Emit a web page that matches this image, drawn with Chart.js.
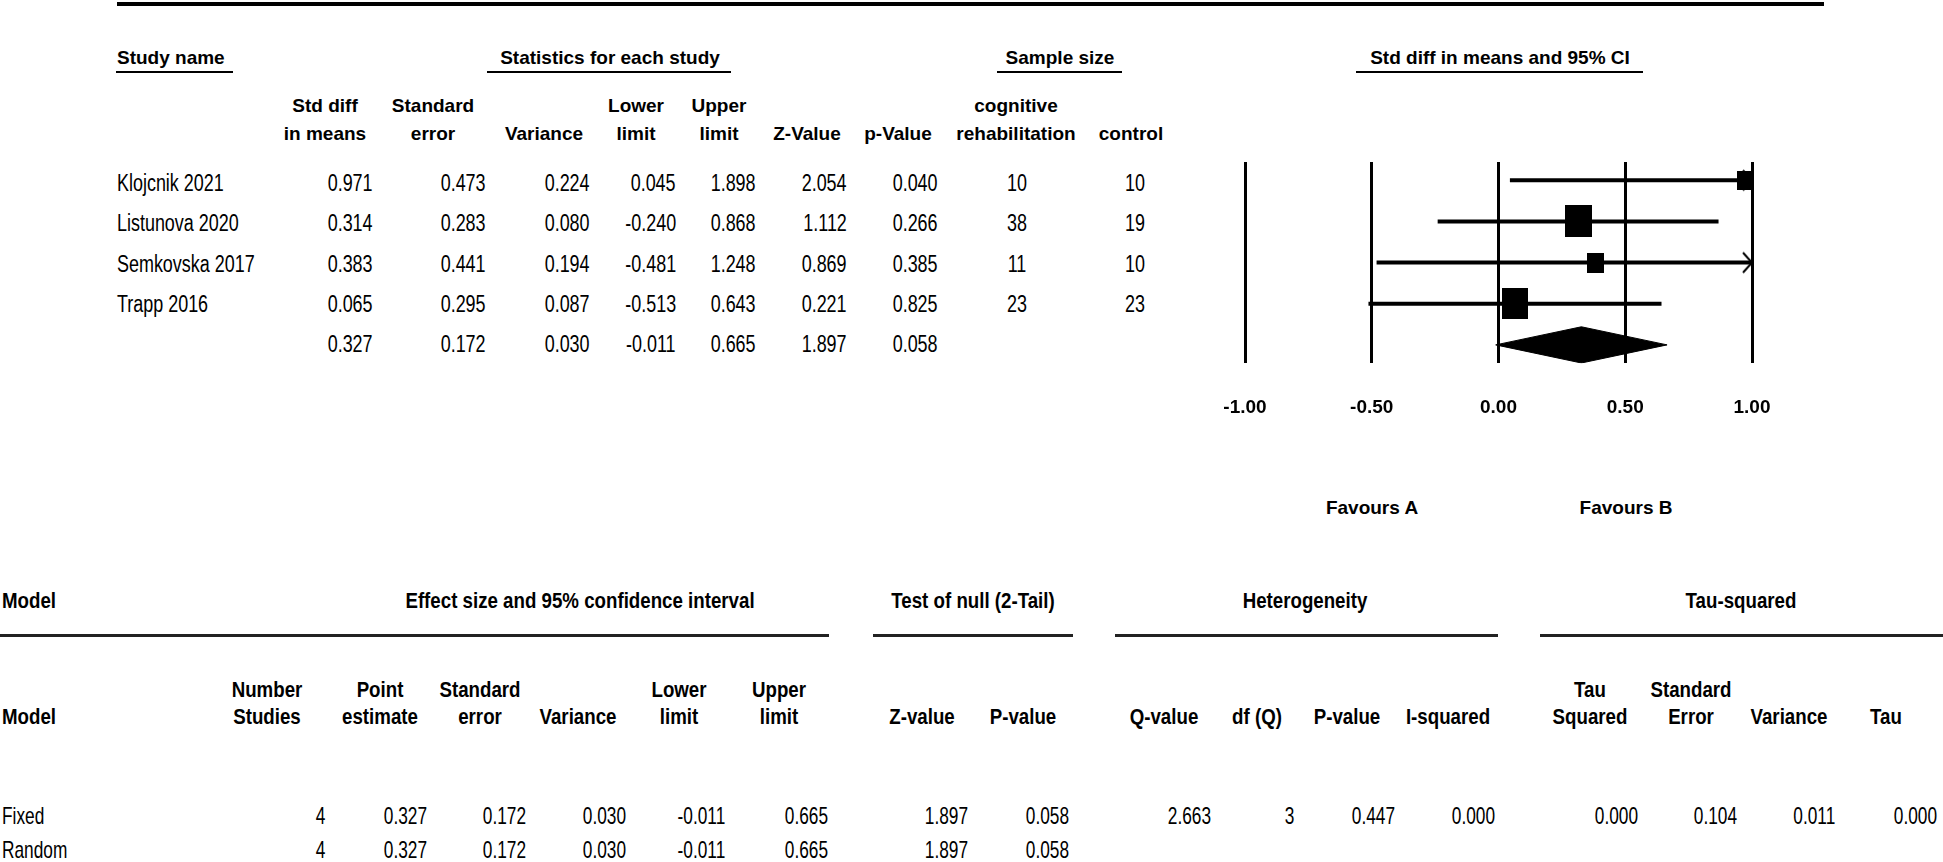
<!DOCTYPE html>
<html>
<head>
<meta charset="utf-8">
<title>Forest plot</title>
<script src="https://cdn.jsdelivr.net/npm/chart.js@4.4.0/dist/chart.umd.min.js"></script>
<style>
  body { margin: 0; background: #fff; }
  #page { position: relative; width: 1943px; height: 862px; overflow: hidden; }
  .t { position: absolute; white-space: nowrap; line-height: 1; color: #000; }
  .hdr { font: bold 19px "Liberation Sans", Arial, sans-serif; }
  .val { font: 23px "Liberation Sans", Arial, sans-serif; }
  .mhdr { font: bold 22px "Liberation Sans", Arial, sans-serif; }
  .mval { font: 24px "Liberation Sans", Arial, sans-serif; }
  .rule { position: absolute; background: #000; }
  #plot { position: absolute; left: 1185px; top: 150px; width: 627px; height: 302px; }
</style>
</head>
<body>
<div id="page">
  <div id="plot"><canvas id="forest"></canvas></div>
</div>
<script>
// study level results
const studyNames = ['Klojcnik 2021', 'Listunova 2020', 'Semkovska 2017', 'Trapp 2016'];
const stdDiff = [0.971, 0.314, 0.383, 0.065];
const stdErr = [0.473, 0.283, 0.441, 0.295];
const variance = [0.224, 0.080, 0.194, 0.087];
const lowerLimit = [0.045, -0.240, -0.481, -0.513];
const upperLimit = [1.898, 0.868, 1.248, 0.643];
const zValue = [2.054, 1.112, 0.869, 0.221];
const pValue = [0.040, 0.266, 0.385, 0.825];
const nRehab = [10, 38, 11, 23];
const nControl = [10, 19, 10, 23];

// pooled row: estimate, SE, variance, lower, upper, Z, p
const pooled = [0.327, 0.172, 0.030, -0.011, 0.665, 1.897, 0.058];

const xTicks = [-1, -0.5, 0, 0.5, 1];

// model summary table
const modelNames = ['Fixed', 'Random'];
const modelStudies = [4, 4];
const modelPoint = [0.327, 0.327];
const modelStdErr = [0.172, 0.172];
const modelVariance = [0.030, 0.030];
const modelLower = [-0.011, -0.011];
const modelUpper = [0.665, 0.665];
const modelZ = [1.897, 1.897];
const modelP = [0.058, 0.058];
const heterogeneity = [2.663, 3, 0.447, 0.000];   // Q, df, P, I-squared
const tauSquared = [0.000, 0.104, 0.011, 0.000];  // tau^2, SE, variance, tau

const page = document.getElementById('page');
const pageWidth = 1943;
// no narrow font installed, so squeeze the regular one
const squeeze = { hdr: 1, val: 0.78, mhdr: 0.85, mval: 0.72 };

function put(txt, x, y, align, cls) {
    const el = document.createElement('div');
    const s = squeeze[cls];
    el.className = 't ' + cls;
    el.textContent = txt;
    el.style.top = y + 'px';
    if (align === 'right') {
        el.style.right = (pageWidth - x) + 'px';
        el.style.transformOrigin = '100% 50%';
        el.style.transform = 'translateY(-50%) scaleX(' + s + ')';
    } else if (align === 'center') {
        el.style.left = x + 'px';
        el.style.transform = 'translate(-50%, -50%) scaleX(' + s + ')';
    } else {
        el.style.left = x + 'px';
        el.style.transformOrigin = '0 50%';
        el.style.transform = 'translateY(-50%) scaleX(' + s + ')';
    }
    page.appendChild(el);
}

function rule(x1, x2, y, h, color) {
    const el = document.createElement('div');
    el.className = 'rule';
    el.style.left = x1 + 'px';
    el.style.width = (x2 - x1) + 'px';
    el.style.top = y + 'px';
    el.style.height = h + 'px';
    if (color) el.style.background = color;
    page.appendChild(el);
}

function fmt(v, dec) {
    return dec === 0 ? String(v) : v.toFixed(3);
}

// ---- top table ----
rule(117, 1824, 2, 4);
put('Study name', 117, 58, 'left', 'hdr');
rule(116, 233, 71, 2);
put('Statistics for each study', 610, 58, 'center', 'hdr');
rule(487, 731, 71, 2);
put('Sample size', 1060, 58, 'center', 'hdr');
rule(997, 1122, 71, 2);
put('Std diff in means and 95% CI', 1500, 58, 'center', 'hdr');
rule(1356, 1643, 71, 2);

const topCols = [
    { head: ['Std diff', 'in means'], x: 325, right: 373, values: stdDiff, total: pooled[0] },
    { head: ['Standard', 'error'], x: 433, right: 486, values: stdErr, total: pooled[1] },
    { head: ['Variance'], x: 544, right: 590, values: variance, total: pooled[2] },
    { head: ['Lower', 'limit'], x: 636, right: 676, values: lowerLimit, total: pooled[3] },
    { head: ['Upper', 'limit'], x: 719, right: 756, values: upperLimit, total: pooled[4] },
    { head: ['Z-Value'], x: 807, right: 847, values: zValue, total: pooled[5] },
    { head: ['p-Value'], x: 898, right: 938, values: pValue, total: pooled[6] },
    { head: ['cognitive', 'rehabilitation'], x: 1016, center: 1017, values: nRehab, dec: 0 },
    { head: ['control'], x: 1131, center: 1135, values: nControl, dec: 0 }
];
const headY = [106, 134];
const rowY0 = 182.7, rowStep = 40.4;

topCols.forEach(col => {
    const off = 2 - col.head.length;
    col.head.forEach((h, k) => put(h, col.x, headY[k + off], 'center', 'hdr'));
    col.values.forEach((v, i) => {
        const y = rowY0 + i * rowStep;
        if (col.center) put(fmt(v, col.dec), col.center, y, 'center', 'val');
        else put(fmt(v, col.dec), col.right, y, 'right', 'val');
    });
    if (col.total !== undefined) {
        put(fmt(col.total), col.right, rowY0 + studyNames.length * rowStep, 'right', 'val');
    }
});
studyNames.forEach((n, i) => put(n, 117, rowY0 + i * rowStep, 'left', 'val'));

put('Favours A', 1372, 508, 'center', 'hdr');
put('Favours B', 1626, 508, 'center', 'hdr');

// ---- bottom model table ----
put('Model', 2, 601, 'left', 'mhdr');
put('Effect size and 95% confidence interval', 580, 601, 'center', 'mhdr');
put('Test of null (2-Tail)', 973, 601, 'center', 'mhdr');
put('Heterogeneity', 1305, 601, 'center', 'mhdr');
put('Tau-squared', 1741, 601, 'center', 'mhdr');
rule(0, 829, 634, 3, '#222');
rule(873, 1073, 634, 3, '#222');
rule(1115, 1498, 634, 3, '#222');
rule(1540, 1943, 634, 3, '#222');

const modelCols = [
    { head: ['Number', 'Studies'], x: 267, right: 325, values: modelStudies, dec: 0 },
    { head: ['Point', 'estimate'], x: 380, right: 427, values: modelPoint },
    { head: ['Standard', 'error'], x: 480, right: 526, values: modelStdErr },
    { head: ['Variance'], x: 578, right: 626, values: modelVariance },
    { head: ['Lower', 'limit'], x: 679, right: 725, values: modelLower },
    { head: ['Upper', 'limit'], x: 779, right: 828, values: modelUpper },
    { head: ['Z-value'], x: 922, right: 968, values: modelZ },
    { head: ['P-value'], x: 1023, right: 1069, values: modelP },
    { head: ['Q-value'], x: 1164, right: 1211, values: [heterogeneity[0]] },
    { head: ['df (Q)'], x: 1257, right: 1294, values: [heterogeneity[1]], dec: 0 },
    { head: ['P-value'], x: 1347, right: 1395, values: [heterogeneity[2]] },
    { head: ['I-squared'], x: 1448, right: 1495, values: [heterogeneity[3]] },
    { head: ['Tau', 'Squared'], x: 1590, right: 1638, values: [tauSquared[0]] },
    { head: ['Standard', 'Error'], x: 1691, right: 1737, values: [tauSquared[1]] },
    { head: ['Variance'], x: 1789, right: 1835, values: [tauSquared[2]] },
    { head: ['Tau'], x: 1886, right: 1937, values: [tauSquared[3]] }
];
const mHeadY = [690, 717];
const mRowY = [816, 850];

put('Model', 2, mHeadY[1], 'left', 'mhdr');
modelNames.forEach((n, i) => put(n, 2, mRowY[i], 'left', 'mval'));
modelCols.forEach(col => {
    const off = 2 - col.head.length;
    col.head.forEach((h, k) => put(h, col.x, mHeadY[k + off], 'center', 'mhdr'));
    col.values.forEach((v, i) => put(fmt(v, col.dec), col.right, mRowY[i], 'right', 'mval'));
});

// ---- forest plot ----
function makeBox(w, h) {
    const c = document.createElement('canvas');
    c.width = w;
    c.height = h;
    const g = c.getContext('2d');
    g.fillStyle = '#000';
    g.fillRect(0, 0, w, h);
    return c;
}

function makeArrow() {
    // tip sits at the canvas centre so it lands on the clipped end
    const c = document.createElement('canvas');
    c.width = 28;
    c.height = 24;
    const g = c.getContext('2d');
    g.strokeStyle = '#000';
    g.lineWidth = 2;
    g.beginPath();
    g.moveTo(5, 2);
    g.lineTo(14, 12);
    g.lineTo(5, 22);
    g.stroke();
    return c;
}

const xMin = xTicks[0], xMax = xTicks[xTicks.length - 1];
const rowPos = studyNames.map((_, i) => i + 1);
const pooledPos = studyNames.length + 1;
const diamondHalf = 0.44;

// box area follows the study weight (1 / variance)
const boxes = variance.map(v => {
    const w = Math.round(7.7 * Math.sqrt(1 / v));
    return makeBox(w, Math.round(w * 1.2));
});
const arrow = makeArrow();

const datasets = [];
datasets.push({
    type: 'scatter',
    data: stdDiff.map((v, i) => ({ x: v, y: rowPos[i] })),
    pointStyle: boxes,
    pointRadius: 6,
    clip: 0
});
datasets.push({
    type: 'scatter',
    data: upperLimit.map((v, i) => ({ x: v, y: rowPos[i] })).filter(p => p.x > xMax).map(p => ({ x: xMax, y: p.y })),
    pointStyle: arrow,
    pointRadius: 6,
    clip: false
});
studyNames.forEach((name, i) => {
    datasets.push({
        type: 'line',
        label: name,
        data: [{ x: lowerLimit[i], y: rowPos[i] }, { x: upperLimit[i], y: rowPos[i] }],
        borderColor: '#000',
        borderWidth: 4,
        pointRadius: 0,
        clip: 0
    });
});
datasets.push({
    type: 'line',
    label: 'Pooled',
    data: [
        { x: pooled[3], y: pooledPos },
        { x: pooled[0], y: pooledPos - diamondHalf },
        { x: pooled[4], y: pooledPos },
        { x: pooled[0], y: pooledPos + diamondHalf },
        { x: pooled[3], y: pooledPos }
    ],
    borderColor: '#000',
    borderWidth: 1,
    backgroundColor: '#000',
    fill: 'shape',
    pointRadius: 0,
    tension: 0
});

new Chart(document.getElementById('forest'), {
    type: 'scatter',
    data: { datasets: datasets },
    options: {
        responsive: true,
        maintainAspectRatio: false,
        animation: false,
        events: [],
        layout: { padding: { left: 60, right: 60, top: 12, bottom: 0 } },
        plugins: { legend: { display: false }, tooltip: { enabled: false } },
        scales: {
            x: {
                type: 'linear',
                min: xMin,
                max: xMax,
                afterBuildTicks: s => { s.ticks = xTicks.map(v => ({ value: v })); },
                grid: { color: '#000', lineWidth: 3, drawTicks: false },
                border: { display: false },
                ticks: {
                    color: '#000',
                    padding: 33,
                    autoSkip: false,
                    maxRotation: 0,
                    font: { family: '"Liberation Sans", Arial, sans-serif', size: 19, weight: 'bold' },
                    callback: v => Number(v).toFixed(2)
                }
            },
            y: { type: 'linear', min: 0.555, max: 5.445, reverse: true, display: false }
        }
    }
});
</script>
</body>
</html>
